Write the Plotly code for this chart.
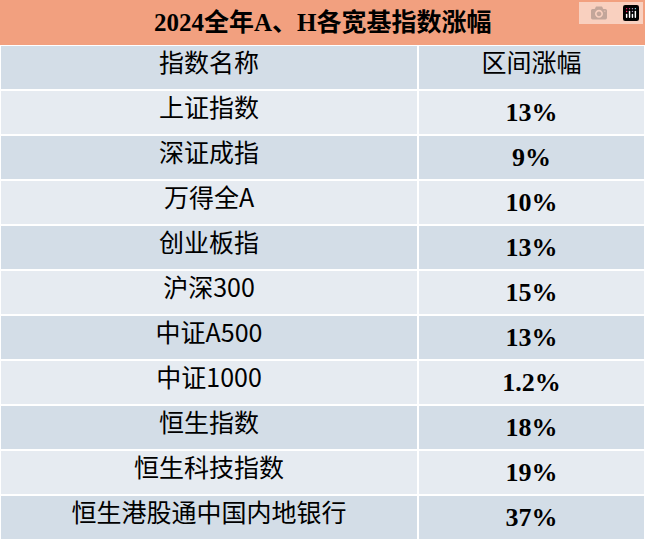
import plotly.graph_objects as go

title = "2024全年A、H各宽基指数涨幅"
headers = ["指数名称", "区间涨幅"]
names = ["上证指数", "深证成指", "万得全A", "创业板指", "沪深300", "中证A500",
         "中证1000", "恒生指数", "恒生科技指数", "恒生港股通中国内地银行"]
changes = ["13%", "9%", "10%", "13%", "15%", "13%", "1.2%", "18%", "19%", "37%"]

W, H = 645, 539
title_h = 45
row_h = 44.9
c1, c2 = "#E6EBF1", "#D3DDE7"
fills = [c1 if i % 2 == 0 else c2 for i in range(len(names))]

fig = go.Figure(go.Table(
    domain=dict(x=[0, 1], y=[0, 1 - title_h / H]),
    columnwidth=[418, 227],
    header=dict(values=headers, height=row_h, fill_color=c2,
                line=dict(color="white", width=1.5), align="center",
                font=dict(family="Noto Sans CJK SC", size=25, color="black")),
    cells=dict(values=[names, ["<b>" + c + "</b>" for c in changes]], height=row_h,
               fill_color=[fills, fills], line=dict(color="white", width=1.5),
               align="center",
               font=dict(family=["Noto Sans CJK SC", "Liberation Serif"], size=[25, 26],
                         color="black"))
))
fig.add_shape(type="rect", xref="paper", yref="paper", x0=0, x1=1,
              y0=1 - title_h / H, y1=1, fillcolor="#F2A07F", line=dict(width=0))
fig.add_annotation(xref="paper", yref="paper", x=0.5, y=1 - title_h / H / 2,
                   yanchor="middle",
                   text="<b>" + title + "</b>", showarrow=False,
                   font=dict(family="Liberation Serif, Noto Sans CJK SC", size=25, color="black"))
fig.update_layout(width=W, height=H, margin=dict(l=0, r=0, t=0, b=0),
                  paper_bgcolor="white")
fig.write_html("out.html",
               post_script="document.body.style.margin='0';document.body.style.overflow='hidden';")
